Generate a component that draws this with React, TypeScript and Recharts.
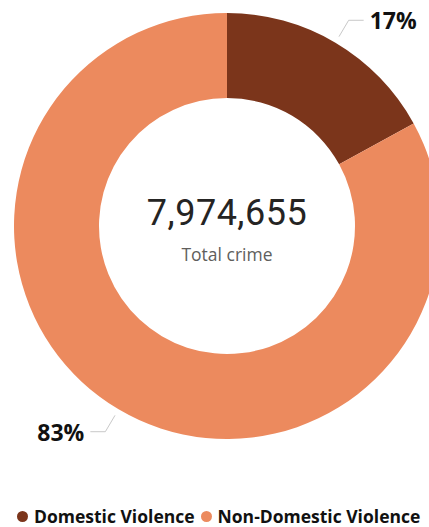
import { PieChart, Pie, Cell, Legend, Label } from "recharts";

const categories = ["Domestic Violence", "Non-Domestic Violence"];
const values = [17, 83];
const colors = ["#7B351B", "#EC8A5E"];
const totalLabel = "7,974,655";
const centerCaption = "Total crime";

const data = categories.map((name, i) => ({ name, value: values[i] }));

const CX = 227;
const CY = 226;
const RAD = Math.PI / 180;

const renderLabel = (props: any) => {
  const { cx, cy, midAngle, outerRadius, percent } = props;
  const cos = Math.cos(-midAngle * RAD);
  const sin = Math.sin(-midAngle * RAD);
  const sx = cx + (outerRadius + 7) * cos;
  const sy = cy + (outerRadius + 7) * sin;
  const mx = cx + (outerRadius + 26) * cos;
  const my = cy + (outerRadius + 26) * sin;
  const right = cos >= 0;
  const ex = mx + (right ? 15 : -15);
  const tx = ex + (right ? 6 : -6);
  return (
    <g>
      <polyline
        points={`${sx},${sy} ${mx},${my} ${ex},${my}`}
        fill="none"
        stroke="#C8C8C8"
        strokeWidth={1}
      />
      <text
        x={tx}
        y={my}
        textAnchor={right ? "start" : "end"}
        dominantBaseline="central"
        fontFamily="'Open Sans', sans-serif"
        fontWeight={700}
        fontSize={23}
        fill="#111111"
      >
        {`${Math.round(percent * 100)}%`}
      </text>
    </g>
  );
};

const renderCenter = () => (
  <g>
    <text
      x={CX}
      y={CY - 13}
      textAnchor="middle"
      dominantBaseline="central"
      fontFamily="Roboto, sans-serif"
      fontSize={36}
      letterSpacing={0.5}
      fill="#252423"
    >
      {totalLabel}
    </text>
    <text
      x={CX}
      y={CY + 28}
      textAnchor="middle"
      dominantBaseline="central"
      fontFamily="'Open Sans', sans-serif"
      fontSize={17.5}
      fill="#605E5C"
    >
      {centerCaption}
    </text>
  </g>
);

const renderLegend = () => (
  <div style={{ display: "flex", alignItems: "center", whiteSpace: "nowrap", lineHeight: 1 }}>
    {categories.map((name, i) => (
      <div key={name} style={{ display: "flex", alignItems: "center", marginRight: 6 }}>
        <span
          style={{
            width: 11,
            height: 11,
            borderRadius: "50%",
            background: colors[i],
            display: "inline-block",
            marginRight: 6,
          }}
        />
        <span
          style={{
            fontFamily: "'Open Sans', sans-serif",
            fontWeight: 700,
            fontSize: 17.5,
            color: "#111111",
          }}
        >
          {name}
        </span>
      </div>
    ))}
  </div>
);

export default function App() {
  return (
    <div style={{ position: "absolute", left: 0, top: 0, width: 429, height: 527, overflow: "hidden", background: "#fff" }}>
      <PieChart width={429} height={527} margin={{ top: 0, right: 0, bottom: 0, left: 0 }}>
        <Pie
          data={data}
          dataKey="value"
          nameKey="name"
          cx={CX}
          cy={CY}
          innerRadius={128}
          outerRadius={213}
          startAngle={90}
          endAngle={-270}
          stroke="none"
          label={renderLabel}
          labelLine={false}
          isAnimationActive={false}
        >
          {data.map((d, i) => (
            <Cell key={d.name} fill={colors[i]} />
          ))}
          <Label position="center" content={renderCenter} />
        </Pie>
        <Legend
          content={renderLegend}
          wrapperStyle={{ position: "absolute", left: 17, top: 508, width: 412 }}
        />
      </PieChart>
    </div>
  );
}
